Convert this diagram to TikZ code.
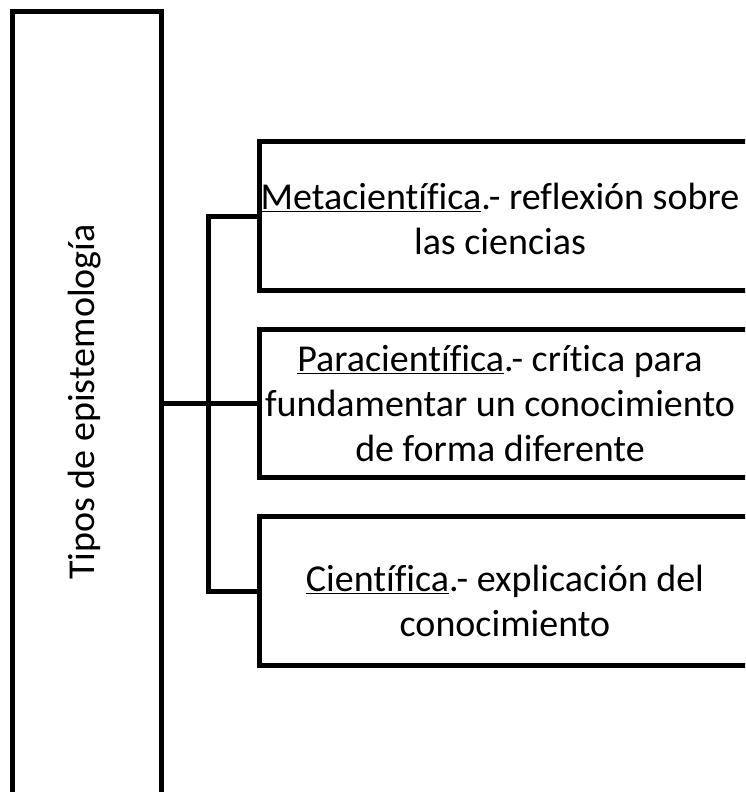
\documentclass[tikz,border=0pt]{standalone}
\usepackage{fontspec}
\setmainfont[Ligatures={NoCommon}]{Carlito}
\begin{document}
\begin{tikzpicture}[x=1pt,y=-1pt,
  box/.style={draw=black,line width=5pt,rectangle,inner sep=0pt,anchor=north west},
  txt/.style={font=\fontsize{38}{45}\selectfont,align=center},
  conn/.style={draw=black,line width=5pt,line join=miter}]
\useasboundingbox (0,0) rectangle (745,792);
\clip (0,0) rectangle (745,792);
\node[box,minimum width=149.5pt,minimum height=850pt] (tipos) at (9.5,9) {};
\node[txt,rotate=90] (tiposlbl) at (85,402) {Tipos de epistemología};
\node[box,minimum width=500pt,minimum height=149pt] (b1) at (257,139) {};
\node[box,minimum width=500pt,minimum height=148pt] (b2) at (257,327) {};
\node[box,minimum width=500pt,minimum height=149pt] (b3) at (257,514) {};
\node[txt] (t1) at (500,219) {\underline{Metacientífica}.- reflexión sobre\\las ciencias};
\node[txt] (t2) at (500,404) {\underline{Paracientífica}.- crítica para\\fundamentar un conocimiento\\de forma diferente};
\node[txt] (t3) at (505,601) {\underline{Científica}.- explicación del\\conocimiento};
\coordinate (bx) at (208,0);
\draw[conn] (tipos.east |- b2.west) -- (b2.west);
\draw[conn] (b1.west) -| (bx |- b3.west) -- (b3.west);
\end{tikzpicture}
\end{document}
